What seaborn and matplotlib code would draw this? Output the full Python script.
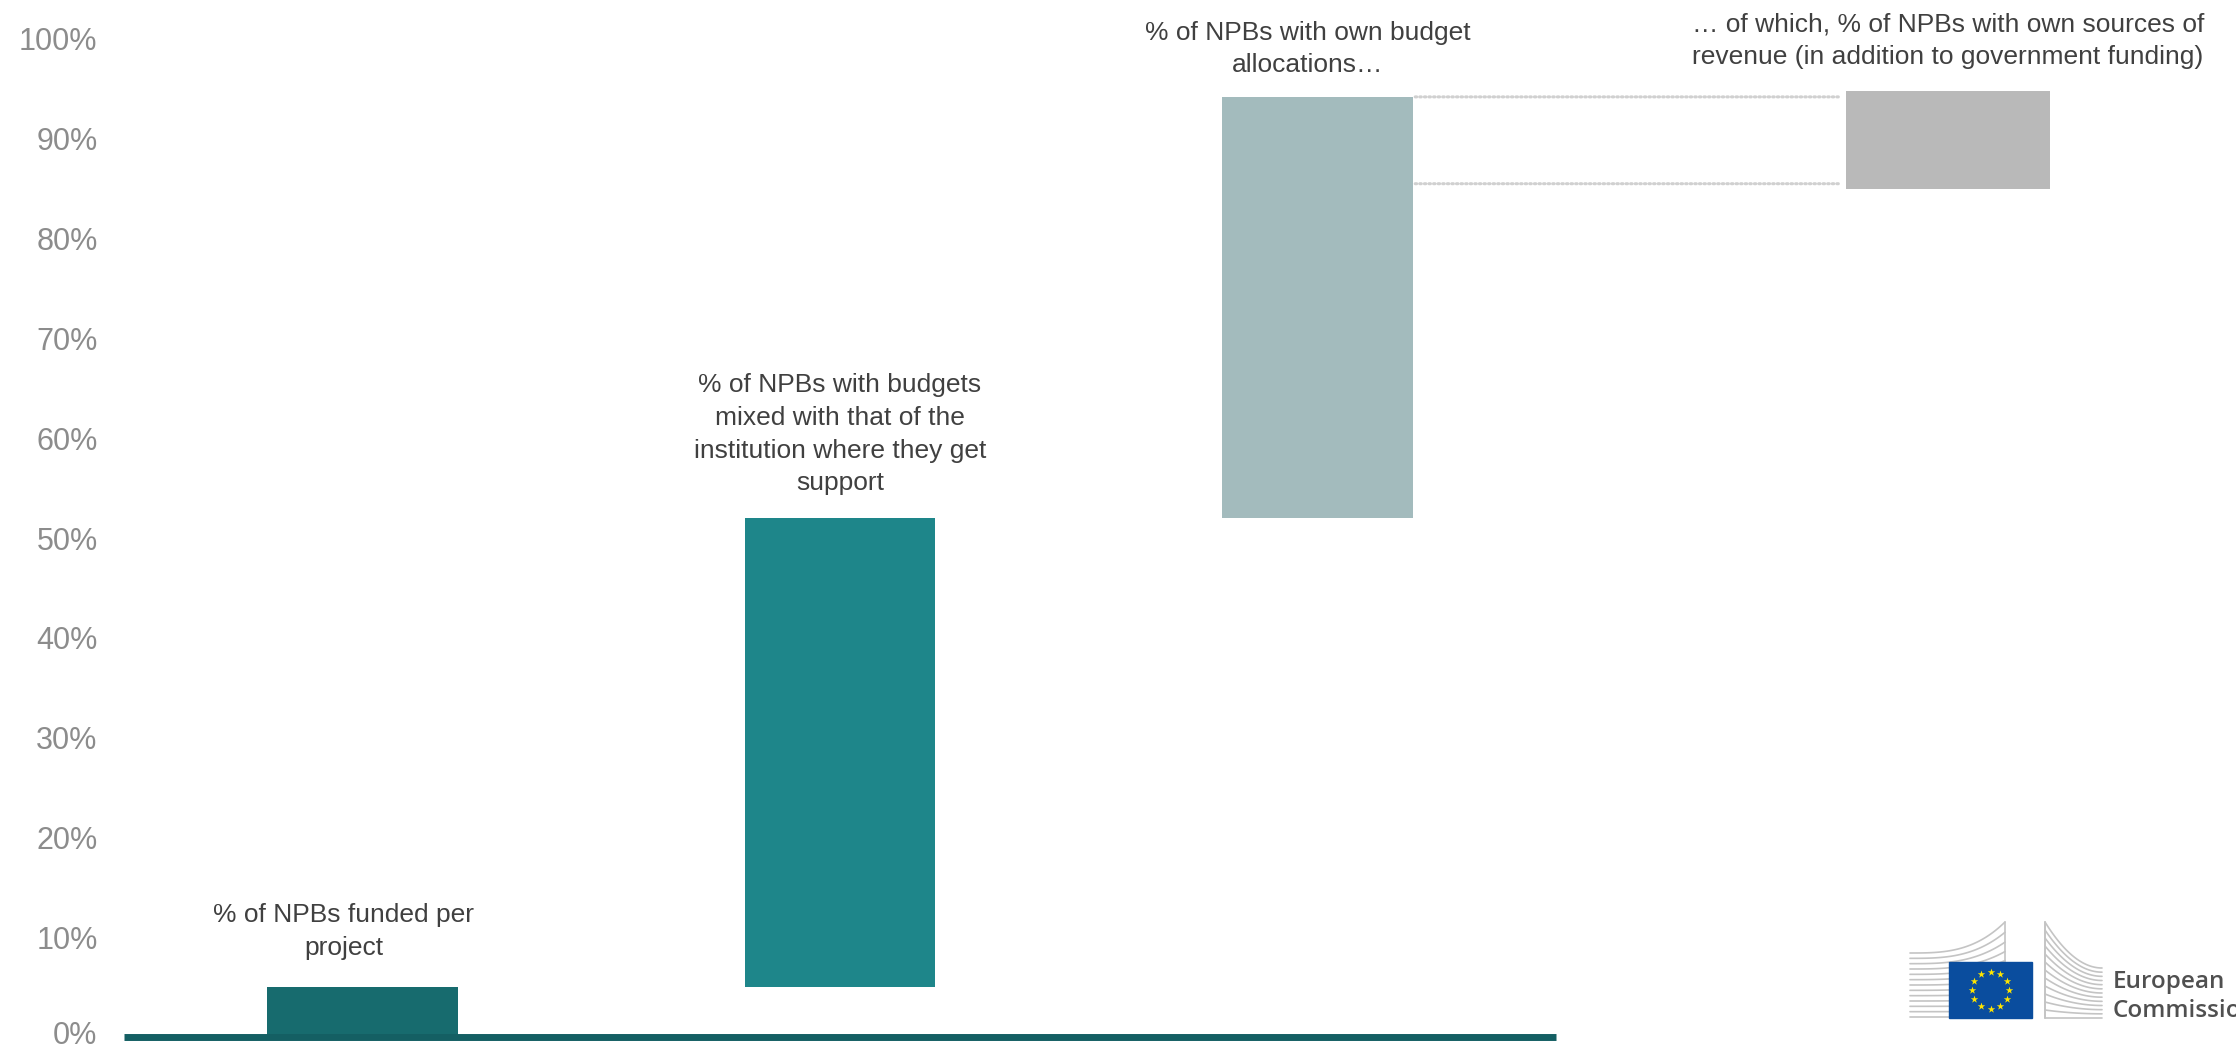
import matplotlib
matplotlib.use("Agg")
import matplotlib.pyplot as plt
import matplotlib.transforms as mtransforms
import seaborn as sns
import numpy as np
import pandas as pd
from matplotlib.patches import ConnectionPatch, Rectangle

# ---------------- data ----------------
categories = [
    "% of NPBs funded per\nproject",
    "% of NPBs with budgets\nmixed with that of the\ninstitution where they get\nsupport",
    "% of NPBs with own budget\nallocations…",
]
bar_bottoms = [0.0, 5.0, 52.0]
bar_tops = [5.0, 52.0, 94.2]

extra_category = ["… of which, % of NPBs with own sources of\nrevenue (in addition to government funding)"]
extra_bottoms = [85.0]
extra_tops = [94.8]

ytick_values = [0, 10, 20, 30, 40, 50, 60, 70, 80, 90, 100]
ytick_labels = [f"{v}%" for v in ytick_values]

# ---------------- style ----------------
bar_colors = ["#176b6e", "#1e868a", "#a3bbbd"]
extra_color = "#b9b9b9"
label_color = "#404040"
tick_color = "#8c8c8c"
axis_color = "#145f63"

sns.set_theme(style="white")
plt.rcParams['font.family'] = ['Liberation Sans', 'DejaVu Sans']

W, H = 2236, 1048
fig = plt.figure(figsize=(W / 100, H / 100), dpi=100)

y0_px, y100_px = 1037, 39
ax_bottom = (H - y0_px) / H
ax_height = (y0_px - y100_px) / H

ax = fig.add_axes([124 / W, ax_bottom, (1556 - 124) / W, ax_height])
df = pd.DataFrame({"cat": categories,
                   "height": [t - b for t, b in zip(bar_tops, bar_bottoms)],
                   "bottom": bar_bottoms})
for i in range(len(df)):
    sns.barplot(data=df.iloc[[i]], x="cat", y="height", order=categories,
                color=bar_colors[i], saturation=1, width=0.4, errorbar=None,
                bottom=df["bottom"].iloc[i], ax=ax, linewidth=0)
ax.set_xlim(-0.5, 2.5)
ax.set_ylim(0, 100)
ax.set_yticks(ytick_values)
ax.set_yticklabels(ytick_labels, color=tick_color, fontsize=22)
ax.set_xticks([])
ax.set_xlabel("")
ax.set_ylabel("")
ax.tick_params(axis="y", length=0, pad=19)
for s in ["left", "top", "right"]:
    ax.spines[s].set_visible(False)
ax.spines["bottom"].set_color(axis_color)
ax.spines["bottom"].set_linewidth(5)
ax.spines["bottom"].set_capstyle("butt")
ax.patch.set_alpha(0)
# nudge the 0% label up a little so it stays inside the figure
zero_lbl = ax.get_yticklabels()[0]
zero_lbl.set_transform(zero_lbl.get_transform() +
                       mtransforms.ScaledTranslation(0, 4 / 100, fig.dpi_scale_trans))

label_y = [10.6, 60.4, 99.0]
label_dx = [-0.04, 0.0, -0.02]
for i, cat in enumerate(categories):
    ax.text(i + label_dx[i], label_y[i], cat, ha="center", va="center",
            fontsize=19, color=label_color, linespacing=1.46, clip_on=False)

# second axes for the "of which" bar
ax2 = fig.add_axes([1693 / W, ax_bottom, 510 / W, ax_height])
df2 = pd.DataFrame({"cat": extra_category,
                    "height": [t - b for t, b in zip(extra_tops, extra_bottoms)],
                    "bottom": extra_bottoms})
sns.barplot(data=df2, x="cat", y="height", color=extra_color, saturation=1,
            width=0.4, errorbar=None, bottom=df2["bottom"].iloc[0], ax=ax2, linewidth=0)
ax2.set_xlim(-0.5, 0.5)
ax2.set_ylim(0, 100)
ax2.axis("off")
ax2.text(0, 99.8, extra_category[0], ha="center", va="center", fontsize=19,
         color=label_color, linespacing=1.46, clip_on=False)

# dotted connectors
for yv in [94.2, 85.5]:
    con = ConnectionPatch(xyA=(2.205, yv), coordsA=ax.transData,
                          xyB=(-0.215, yv), coordsB=ax2.transData,
                          color="#d0d0d0", linewidth=2.2, linestyle=(0, (0.5, 1.0)))
    fig.add_artist(con)

# ---------------- logo ----------------
lg = fig.add_axes([1880 / W, 0, 356 / W, 148 / H])
lg.set_xlim(1880, 2236)
lg.set_ylim(1048, 900)
lg.axis("off")
bgray = "#c4c4c4"
n = 13
for i in range(n):
    yl = 1017 - i * (64 / (n - 1))
    d = 31 * (i / (n - 1)) ** 2
    xs = np.linspace(1910, 2005, 40)
    ys = yl - d * ((xs - 1910) / 95) ** 3
    lg.plot(xs, ys, color=bgray, lw=1.2)
lg.plot([2005, 2005], [922, 1018], color=bgray, lw=1.2)
for i in range(n):
    ya = 922 + i * (96 / (n - 1))
    yb = 968 + i * (50 / (n - 1))
    t = np.linspace(0, 1, 40)
    xs = 2045 + t * 57
    ys = ya + (yb - ya) * (1 - (1 - t) ** 2)
    lg.plot(xs, ys, color=bgray, lw=1.2)
lg.plot([2045, 2045], [922, 1018], color=bgray, lw=1.4)
lg.add_patch(Rectangle((1949, 962), 83, 56, color="#0a4d9e", zorder=3))
ang = np.linspace(0, 2 * np.pi, 13)[:-1]
lg.scatter(1990.5 + 18.5 * np.cos(ang), 990 + 18.5 * np.sin(ang), marker="*",
           s=32, color="#ffe500", zorder=4, linewidths=0)
lg.text(2113, 988, "European", fontsize=17.5, color="#505050",
        family=["Open Sans", "DejaVu Sans"], fontweight="semibold",
        va="baseline", ha="left")
lg.text(2113, 1017, "Commission", fontsize=17.5, color="#505050",
        family=["Open Sans", "DejaVu Sans"], fontweight="semibold",
        va="baseline", ha="left", clip_on=False)

fig.savefig("out.png", dpi=100)
